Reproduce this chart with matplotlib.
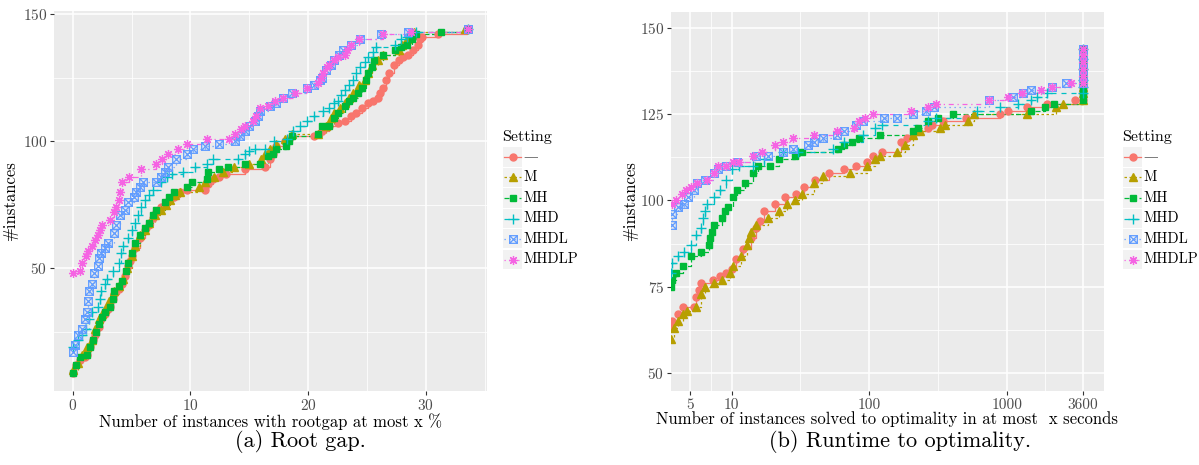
import matplotlib
matplotlib.use("Agg")
import matplotlib.pyplot as plt
from matplotlib.lines import Line2D
from matplotlib.patches import Rectangle
from matplotlib.path import Path
from matplotlib.ticker import FixedLocator, FixedFormatter, NullFormatter

plt.rcParams["font.family"] = ["cmr10", "DejaVu Serif"]
plt.rcParams["axes.formatter.use_mathtext"] = True

W, H = 1199, 465

SETTINGS = ["—", "M", "MH", "MHD", "MHDL", "MHDLP"]
COLORS = ["#F8766D", "#B79F00", "#00BA38", "#00BFC4", "#619CFF", "#F564E3"]

# (a) root gap: x = gap %, y = #instances
GAP_NONE_X = [0, 0.3, 0.6, 1.0, 1.2, 1.5, 1.7, 1.9, 2.2, 2.4, 2.7, 3.0, 3.2, 3.4, 3.5, 3.9, 4.2, 4.4, 4.7,
              4.9, 5.0, 5.3, 5.7, 6.1, 6.5, 6.8, 7.1, 7.5, 7.8, 8.2, 8.6, 9.1, 9.7, 11.2, 11.5, 11.9, 12.4,
              13.0, 14.6, 16.3, 16.8, 17.0, 17.3, 18.0, 18.6, 20.5, 21.2, 21.8, 22.5, 23.1, 23.6, 24.1,
              24.6, 25.1, 25.5, 25.9, 26.1, 26.4, 26.6, 26.9, 27.3, 27.7, 28.1, 28.5, 28.9, 29.3, 29.5,
              29.7, 31.0, 33.5]
GAP_NONE_Y = [9, 12, 14, 15, 16, 19, 22, 24, 27, 30, 32, 34, 35, 38, 40, 42, 44, 47, 51, 53, 55, 58, 62,
              65, 67, 70, 72, 74, 75, 77, 78, 80, 81, 81, 83, 85, 86, 87, 89, 90, 93, 95, 98, 100, 102,
              102, 104, 106, 107, 108, 110, 111, 113, 115, 116, 117, 119, 121, 124, 127, 130, 132, 133,
              134, 136, 138, 140, 141, 142, 144]
GAP_M_X = [0, 0.4, 0.75, 1.2, 1.6, 1.9, 2.2, 2.5, 2.7, 3.1, 3.5, 3.9, 4.3, 4.6, 5.0, 5.3, 5.7, 6.1, 6.5,
           7.0, 7.5, 7.9, 8.3, 8.7, 9.1, 10.7, 11.2, 12.0, 12.8, 13.7, 15.0, 16.0, 16.3, 16.8, 17.3, 18.0,
           18.6, 20.8, 21.5, 21.9, 22.2, 22.7, 23.1, 23.5, 23.8, 24.3, 24.8, 25.1, 25.4, 25.9, 26.4, 27.7,
           28.0, 28.4, 28.7, 29.0, 33.3]
GAP_M_Y = [10, 13, 16, 19, 22, 26, 30, 32, 34, 37, 41, 43, 46, 50, 55, 59, 63, 65, 68, 71, 73, 75, 77, 79,
           80, 82, 84, 86, 88, 90, 91, 93, 95, 97, 99, 101, 103, 103, 106, 109, 111, 113, 115, 117, 119,
           122, 124, 127, 130, 132, 134, 136, 138, 140, 142, 143, 144]
GAP_MH_X = [0, 0.3, 0.6, 1.2, 1.5, 1.7, 2.0, 2.2, 2.5, 2.7, 3.2, 3.4, 3.5, 3.9, 4.2, 4.5, 4.7, 5.0, 5.3,
            5.7, 6.1, 6.5, 6.8, 7.1, 7.8, 8.2, 8.6, 9.7, 10.1, 11.4, 11.5, 12.4, 13.2, 14.6, 15.9, 16.6,
            17.0, 17.3, 18.1, 18.4, 18.6, 20.8, 21.2, 21.8, 22.2, 22.5, 23.1, 23.5, 23.8, 24.2, 24.6, 24.9,
            25.1, 25.4, 25.6, 26.4, 27.4, 27.9, 28.4, 28.8, 29.2, 31.3, 33.6]
GAP_MH_Y = [9, 12, 15, 16, 19, 22, 25, 28, 31, 33, 35, 38, 41, 43, 45, 49, 52, 56, 60, 63, 66, 68, 71, 73,
            76, 78, 80, 82, 84, 85, 88, 89, 90, 91, 91, 94, 95, 97, 98, 100, 102, 103, 106, 106, 109, 111,
            114, 116, 117, 119, 121, 124, 127, 129, 132, 134, 136, 137, 138, 140, 142, 143, 144]
GAP_MHD_X = [0, 0.4, 0.8, 1.1, 1.4, 1.6, 2.1, 2.3, 2.4, 2.7, 2.9, 3.4, 3.9, 4.1, 4.3, 4.7, 5.0, 5.3, 5.5,
             5.8, 6.1, 6.5, 6.8, 7.5, 8.0, 8.4, 9.4, 10.4, 11.4, 11.9, 14.0, 14.6, 15.0, 15.5, 16.3, 17.1,
             18.2, 18.7, 19.3, 19.9, 20.5, 21.3, 21.8, 22.2, 22.5, 22.8, 23.1, 23.5, 23.8, 24.1, 24.4, 24.8,
             25.1, 25.5, 25.8, 27.4, 27.9, 28.4, 29.2, 33.6]
GAP_MHD_Y = [19, 22, 24, 26, 30, 33, 35, 38, 41, 44, 46, 49, 52, 56, 59, 62, 65, 68, 71, 74, 77, 79, 81,
             84, 86, 87, 88, 90, 91, 93, 93, 95, 96, 97, 97, 100, 101, 104, 106, 108, 110, 112, 113, 115,
             116, 118, 120, 122, 124, 127, 129, 131, 133, 135, 137, 138, 140, 141, 143, 144]
GAP_MHDL_X = [0, 0.2, 0.4, 0.75, 1.0, 1.2, 1.3, 1.4, 1.6, 1.8, 2.1, 2.2, 2.4, 2.7, 3.0, 3.5, 3.7, 4.0, 4.4,
              4.7, 5.2, 5.4, 5.7, 6.0, 7.1, 7.5, 7.8, 8.1, 8.8, 9.7, 10.2, 11.2, 12.4, 13.8, 14.2, 14.6,
              15.0, 15.5, 15.7, 15.9, 16.8, 17.3, 17.9, 18.6, 19.9, 20.5, 21.0, 21.2, 21.5, 21.9, 22.2,
              22.6, 23.0, 23.6, 24.4, 26.2, 28.5, 33.6]
GAP_MHDL_Y = [17, 20, 24, 26, 30, 33, 37, 41, 44, 48, 51, 54, 56, 58, 60, 64, 67, 71, 73, 76, 78, 80, 82,
              84, 84, 86, 88, 90, 93, 95, 97, 98, 99, 100, 102, 104, 106, 108, 110, 112, 114, 115, 117,
              119, 121, 122, 124, 125, 128, 130, 132, 134, 136, 138, 140, 142, 143, 144]
GAP_MHDLP_X = [0, 0.6, 0.8, 1.1, 1.3, 1.6, 1.9, 2.1, 2.3, 2.5, 3.2, 3.5, 3.7, 3.9, 4.0, 4.2, 4.8, 5.8, 7.1,
               7.6, 8.1, 8.9, 9.7, 11.4, 13.3, 13.8, 14.3, 14.6, 15.3, 15.6, 15.9, 16.6, 17.2, 17.9, 18.9,
               19.9, 20.8, 21.1, 21.3, 21.6, 21.8, 22.2, 22.5, 23.1, 23.3, 23.6, 24.3, 26.4, 28.7, 33.6]
GAP_MHDLP_Y = [48, 49, 52, 55, 57, 59, 61, 63, 65, 67, 69, 72, 74, 77, 80, 84, 86, 89, 91, 93, 95, 97,
               99, 101, 101, 103, 105, 106, 108, 110, 113, 114, 116, 117, 119, 121, 123, 125, 127, 129,
               130, 132, 133, 134, 136, 138, 140, 142, 143, 144]

# (b) runtime: x = seconds (3600 = time limit), y = #instances
RT_NONE_X = [3.6, 3.7, 4.1, 4.4, 5.3, 5.5, 5.8, 6.0, 7.3, 8.2, 9.1, 10, 10.7, 12.1, 13.8, 15.1, 16.0, 17.2,
             20.8, 24.4, 29.6, 33.6, 40.7, 51, 66, 80, 96, 106, 124, 171, 190, 218, 268, 285, 345, 506, 900,
             1025, 1410, 1950, 3140, 3600, 3600, 3600, 3600, 3600, 3600, 3600, 3600]
RT_NONE_Y = [63, 65, 67, 69, 69, 72, 74, 76, 77, 78, 79, 80, 83, 86, 89, 92, 94, 97, 99, 101, 102, 104, 106,
             108, 109, 110, 111, 113, 114, 117, 118, 120, 121, 122, 123, 124, 125, 126, 127, 128, 129, 129,
             131, 133, 135, 137, 139, 141, 144]
RT_M_X = [3.6, 3.8, 4.1, 4.4, 4.7, 5.5, 6.0, 6.4, 7.5, 8.5, 9.7, 10.3, 11.7, 12.9, 13.3, 13.8, 15.1, 18.4,
          22.2, 25.2, 28.8, 32.6, 39.5, 46.3, 72.5, 96, 110, 120, 160, 181, 207, 235, 325, 357, 523, 575,
          1410, 2270, 2590, 3600, 3600, 3600, 3600, 3600, 3600, 3600, 3600]
RT_M_Y = [60, 63, 65, 67, 68, 69, 73, 75, 76, 77, 79, 81, 84, 87, 89, 91, 93, 95, 97, 99, 100, 102, 105,
          107, 108, 110, 112, 113, 114, 116, 119, 120, 121, 122, 123, 125, 125, 127, 128, 129, 131, 133,
          135, 137, 139, 141, 144]
RT_MH_X = [3.6, 3.7, 3.95, 4.4, 5.1, 6.0, 6.8, 7.0, 7.2, 7.5, 8.5, 9.0, 9.4, 10.3, 11.0, 12.5, 14.2, 15.6,
           19.0, 22.2, 28.8, 32.6, 59.8, 65.8, 75, 85, 120, 207, 228, 268, 315, 405, 1500, 1890, 2200, 3600,
           3600, 3600, 3600, 3600, 3600, 3600, 3600]
RT_MH_Y = [75, 77, 79, 81, 84, 85, 87, 89, 91, 93, 95, 97, 98, 101, 103, 105, 108, 110, 110, 112, 113, 114,
           115, 116, 117, 118, 119, 120, 121, 123, 124, 125, 126, 127, 128, 129, 131, 133, 135, 137, 139,
           141, 144]
RT_MHD_X = [3.6, 3.7, 4.1, 4.5, 5.1, 5.5, 6.0, 6.2, 6.4, 6.6, 7.5, 8.2, 9.1, 10, 11.4, 14.2, 17.2, 23.7,
            30.6, 54.3, 65.8, 90.6, 110, 124, 268, 305, 612, 900, 1200, 1500, 1650, 1950, 3600, 3600, 3600,
            3600, 3600, 3600]
RT_MHD_Y = [79, 82, 84, 85, 87, 90, 92, 95, 97, 99, 101, 103, 106, 109, 110, 110, 112, 114, 114, 115, 117,
            119, 121, 122, 123, 124, 126, 127, 128, 129, 130, 131, 131, 133, 135, 138, 141, 144]
RT_MHDL_X = [3.67, 3.7, 4.1, 4.5, 4.8, 5.3, 5.6, 6.4, 7.5, 8.0, 9.1, 11.0, 15.1, 18.4, 23.7, 27.8, 35.8,
             39.5, 46.3, 58, 65.8, 79.7, 90.6, 129, 160, 207, 259, 295, 743, 1120, 1320, 1500, 2140, 2680,
             3600, 3600, 3600, 3600, 3600, 3600]
RT_MHDL_Y = [93, 96, 98, 99, 101, 103, 105, 106, 108, 109, 110, 111, 113, 113, 114, 115, 116, 117, 118, 119,
             120, 122, 123, 124, 124, 125, 126, 127, 129, 130, 131, 132, 133, 134, 134, 136, 138, 140, 142, 144]
RT_MHDLP_X = [3.67, 3.95, 4.36, 4.65, 5.1, 5.6, 6.6, 7.5, 8.0, 9.1, 10.3, 11.4, 14.2, 16.7, 20.8, 23.7,
              27.8, 39.5, 58, 77, 85, 93, 106, 201, 268, 305, 743, 1025, 1286, 1770, 2140, 2950, 3600,
              3600, 3600, 3600, 3600, 3600]
RT_MHDLP_Y = [99, 100, 102, 103, 104, 105, 106, 108, 110, 110, 111, 111, 113, 114, 116, 117, 118, 119, 120,
              121, 123, 124, 125, 126, 127, 128, 129, 130, 131, 132, 133, 134, 134, 136, 138, 140, 142, 144]

GAP_X = [GAP_NONE_X, GAP_M_X, GAP_MH_X, GAP_MHD_X, GAP_MHDL_X, GAP_MHDLP_X]
GAP_Y = [GAP_NONE_Y, GAP_M_Y, GAP_MH_Y, GAP_MHD_Y, GAP_MHDL_Y, GAP_MHDLP_Y]
RT_X = [RT_NONE_X, RT_M_X, RT_MH_X, RT_MHD_X, RT_MHDL_X, RT_MHDLP_X]
RT_Y = [RT_NONE_Y, RT_M_Y, RT_MH_Y, RT_MHD_Y, RT_MHDL_Y, RT_MHDLP_Y]

# square with a cross (ggplot shape 7)
sq_cross = Path(
    [(-1, -1), (1, -1), (1, 1), (-1, 1), (-1, -1), (-1, -1), (1, 1), (-1, 1), (1, -1)],
    [Path.MOVETO, Path.LINETO, Path.LINETO, Path.LINETO, Path.CLOSEPOLY,
     Path.MOVETO, Path.LINETO, Path.MOVETO, Path.LINETO],
)
MARKERS = [
    dict(marker="o", ms=5),
    dict(marker="^", ms=5.5),
    dict(marker="s", ms=5),
    dict(marker="+", ms=6.5, mew=1.0),
    dict(marker=sq_cross, ms=5.5, mew=0.9, mfc="none"),
    dict(marker=(8, 2, 0), ms=6.5, mew=0.9),
]
DASHES = [None, (2, 2), (4, 2), (4, 4), (1, 3), (1, 3, 4, 3)]

GRID_BG = "#EBEBEB"
TICK_C = "#4D4D4D"


def px_rect(x0, y0, x1, y1):
    return [x0 / W, 1 - y1 / H, (x1 - x0) / W, (y1 - y0) / H]


def style_axes(ax):
    ax.set_facecolor(GRID_BG)
    for s in ax.spines.values():
        s.set_visible(False)
    ax.grid(True, which="major", color="white", lw=1.1)
    ax.grid(True, which="minor", color="white", lw=0.55)
    ax.set_axisbelow(True)
    ax.tick_params(which="major", length=3, width=0.8, color="#333333",
                   labelcolor=TICK_C, labelsize=11, pad=2)
    ax.tick_params(which="minor", length=0)


def draw_series(ax, xs, ys):
    for i in range(len(SETTINGS)):
        ln = ax.plot(xs[i], ys[i], drawstyle="steps-post", color=COLORS[i], lw=0.9, zorder=2)[0]
        if DASHES[i] is not None:
            ln.set_dashes(DASHES[i])
    for i in range(len(SETTINGS)):
        m = dict(MARKERS[i])
        mfc = m.pop("mfc", COLORS[i])
        ax.plot(xs[i], ys[i], ls="none", color=COLORS[i], mfc=mfc, mec=COLORS[i], zorder=3, **m)


def draw_legend(fig, x0):
    fig.text((x0 - 1) / W, 1 - 137 / H, "Setting", fontsize=11.5, va="center", ha="left")
    for i, name in enumerate(SETTINGS):
        yc = 157 + 20.5 * i
        fig.patches.append(Rectangle((x0 / W, 1 - (yc + 9.5) / H), 19 / W, 19 / H,
                                     transform=fig.transFigure, facecolor="#F2F2F2",
                                     edgecolor="none", zorder=1))
        ln = Line2D([(x0 + 1) / W, (x0 + 18) / W], [1 - yc / H, 1 - yc / H],
                    transform=fig.transFigure, color=COLORS[i], lw=0.9, zorder=2)
        if DASHES[i] is not None:
            ln.set_dashes(DASHES[i])
        fig.lines.append(ln)
        m = dict(MARKERS[i])
        mfc = m.pop("mfc", COLORS[i])
        fig.lines.append(Line2D([(x0 + 9.5) / W], [1 - yc / H], transform=fig.transFigure,
                                ls="none", color=COLORS[i], mfc=mfc, mec=COLORS[i], zorder=3, **m))
        fig.text((x0 + 20) / W, 1 - yc / H, name, fontsize=10.5, va="center", ha="left",
                 color="#555555" if i == 0 else "black")


fig = plt.figure(figsize=(W / 100, H / 100), dpi=100)

# (a) root gap
ax1 = fig.add_axes(px_rect(54, 11, 487, 391))
style_axes(ax1)
draw_series(ax1, GAP_X, GAP_Y)
ax1.set_xlim(-1.6, 35.2)
ax1.set_ylim(1.8, 151.2)
ax1.xaxis.set_major_locator(FixedLocator([0, 10, 20, 30]))
ax1.xaxis.set_minor_locator(FixedLocator([5, 15, 25, 35]))
ax1.yaxis.set_major_locator(FixedLocator([50, 100, 150]))
ax1.yaxis.set_minor_locator(FixedLocator([25, 75, 125]))
ax1.set_xlabel("Number of instances with rootgap at most x %", fontsize=12, labelpad=0)
ax1.set_ylabel("#instances", fontsize=12, labelpad=3)

# (b) runtime
ax2 = fig.add_axes(px_rect(671, 12, 1104, 391))
style_axes(ax2)
ax2.set_xscale("log")
draw_series(ax2, RT_X, RT_Y)
ax2.set_xlim(10 ** 0.559, 10 ** 3.708)
ax2.set_ylim(44.8, 154.6)
ax2.xaxis.set_major_locator(FixedLocator([5, 10, 100, 1000, 3600]))
ax2.xaxis.set_major_formatter(FixedFormatter(["5", "10", "100", "1000", "3600"]))
ax2.xaxis.set_minor_locator(FixedLocator([7.07, 31.6, 316, 1897]))
ax2.xaxis.set_minor_formatter(NullFormatter())
ax2.yaxis.set_major_locator(FixedLocator([50, 75, 100, 125, 150]))
ax2.yaxis.set_minor_locator(FixedLocator([62.5, 87.5, 112.5, 137.5]))
ax2.set_xlabel("Number of instances solved to optimality in at most  x seconds", fontsize=12, labelpad=0)
ax2.set_ylabel("#instances", fontsize=12, labelpad=1)

draw_legend(fig, 503)
draw_legend(fig, 1123)

fig.text(300 / W, 1 - 441 / H, "(a) Root gap.", fontsize=16, ha="center", va="center")
fig.text(900 / W, 1 - 441 / H, "(b) Runtime to optimality.", fontsize=16, ha="center", va="center")

fig.savefig("out.png", dpi=100)
